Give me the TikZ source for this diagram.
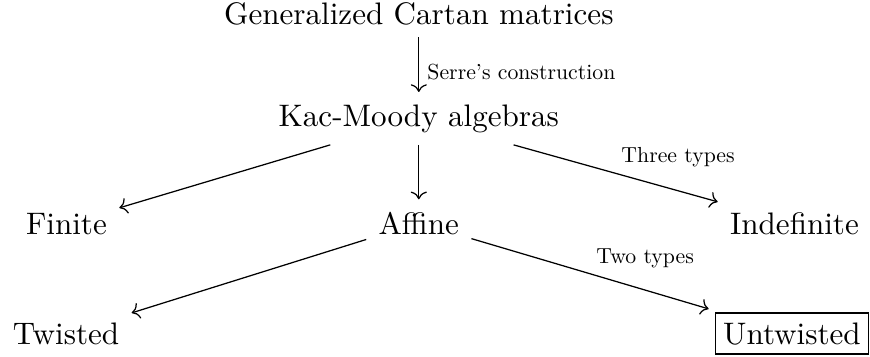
\documentclass[tikz,border=0pt]{standalone}
\usetikzlibrary{arrows.meta}
\begin{document}
\begin{tikzpicture}[x=0.3215pt,y=-0.3215pt,
  obj/.style={anchor=base,inner sep=0pt,outer sep=4pt,font=\normalsize},
  boxobj/.style={anchor=base,draw,line width=0.4pt,inner xsep=2.5pt,inner ysep=3pt,outer sep=2.2pt,font=\normalsize},
  lbl/.style={anchor=base west,inner sep=0pt,font=\normalsize,scale=0.7},
  arr/.style={->,line width=0.4pt}]
\useasboundingbox (0,0) rectangle (870,356);
\node[obj] (gcm) at (418.8,24) {Generalized Cartan matrices};
\node[obj] (km) at (418.8,126) {Kac-Moody algebras};
\node[obj] (fin) at (66.5,234) {Finite};
\node[obj] (aff) at (418.8,234) {Affine};
\node[obj] (ind) at (794.5,234) {Indefinite};
\node[obj] (tw) at (66,344) {Twisted};
\node[boxobj] (untw) at (792,344) {Untwisted};
\draw[arr] (gcm) -- (km);
\draw[arr] (km) -- (fin);
\draw[arr] (km) -- (aff);
\draw[arr] (km) -- (ind);
\draw[arr] (aff) -- (tw);
\draw[arr] (aff) -- (untw);
\node[lbl] (serre) at (427,79) {Serre's construction};
\node[lbl] (three) at (621,162) {Three types};
\node[lbl] (two) at (596,263) {Two types};
\end{tikzpicture}
\end{document}
